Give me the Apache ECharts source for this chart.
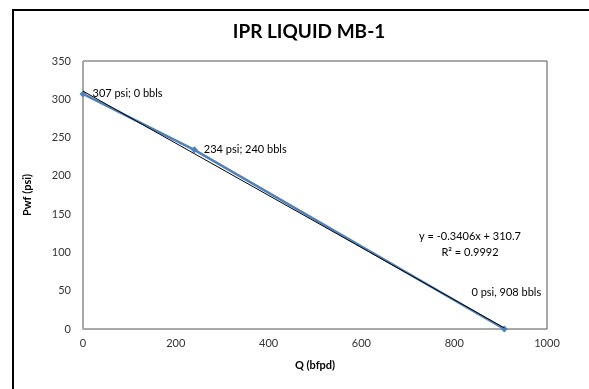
<!DOCTYPE html>
<html>
<head>
<meta charset="utf-8">
<script src="https://cdn.jsdelivr.net/npm/echarts@6/dist/echarts.min.js"></script>
<style>
  html, body { margin: 0; padding: 0; background: #fff; }
  #chart { width: 589px; height: 389px; }
</style>
</head>
<body>
<div id="chart"></div>
<script>
// measured points: Q (bfpd), Pwf (psi)
const qValues = [0, 240, 908]
const pwfValues = [307, 234, 0]
const pointLabels = ["307 psi; 0 bbls", "234 psi; 240 bbls", "0 psi, 908 bbls"]

// linear trendline from the chart: y = -0.3406x + 310.7
const slope = -0.3406
const intercept = 310.7
const trendX = [0, 908]

const font = "Lato, 'Liberation Sans', sans-serif"

const chart = echarts.init(document.getElementById("chart"))

const points = qValues.map((q, i) => {
  const item = { value: [q, pwfValues[i]], label: { formatter: pointLabels[i] } }
  if (i === 2) {
    item.label.position = "top"
    item.label.offset = [2, -22]
  }
  return item
})

const option = {
  animation: false,
  backgroundColor: "#fff",
  textStyle: { fontFamily: font },
  title: {
    text: "IPR LIQUID MB-1",
    left: 304,
    textAlign: "center",
    top: 17,
    textStyle: { fontFamily: font, fontSize: 19, fontWeight: "bold", color: "#000" },
  },
  grid: {
    left: 83,
    top: 61,
    width: 464,
    height: 268,
    show: true,
    borderColor: "#555",
    borderWidth: 1,
  },
  xAxis: {
    type: "value",
    min: 0,
    max: 1000,
    interval: 200,
    name: "Q (bfpd)",
    nameLocation: "middle",
    nameGap: 31,
    nameTextStyle: { fontFamily: font, fontSize: 11, fontWeight: "bold", color: "#000" },
    axisLine: { show: true, lineStyle: { color: "#a6a6a6", width: 1 } },
    axisTick: { show: false },
    splitLine: { show: false },
    axisLabel: { fontFamily: font, fontSize: 11, color: "#333", margin: 9, formatter: (v) => String(v) },
  },
  yAxis: {
    type: "value",
    min: 0,
    max: 350,
    interval: 50,
    name: "Pwf (psi)",
    nameLocation: "middle",
    nameGap: 50,
    nameTextStyle: { fontFamily: font, fontSize: 11, fontWeight: "bold", color: "#000" },
    axisLine: { show: true, lineStyle: { color: "#a6a6a6", width: 1 } },
    axisTick: { show: false },
    splitLine: { show: false },
    axisLabel: { fontFamily: font, fontSize: 11, color: "#333", margin: 12 },
  },
  series: [
    {
      name: "IPR",
      type: "line",
      data: points,
      symbol: "diamond",
      symbolSize: 7,
      lineStyle: { color: "#4f81bd", width: 2.5 },
      itemStyle: { color: "#4f81bd" },
      label: {
        show: true,
        position: "right",
        distance: 6,
        fontFamily: font,
        fontSize: 11,
        color: "#000",
      },
      z: 2,
    },
    {
      name: "Trend",
      type: "line",
      data: trendX.map((x) => [x, slope * x + intercept]),
      symbol: "none",
      lineStyle: { color: "#000", width: 1 },
      z: 3,
    },
  ],
  graphic: [
    {
      type: "rect",
      shape: { x: 13, y: 10, width: 600, height: 420 },
      style: { fill: "none", stroke: "#000", lineWidth: 2 },
      silent: true,
    },
    {
      type: "text",
      x: 470,
      y: 244,
      style: {
        text: "y = -0.3406x + 310.7\nR² = 0.9992",
        align: "center",
        verticalAlign: "middle",
        lineHeight: 16,
        font: "11px " + font,
        fill: "#000",
      },
      z: 10,
    },
  ],
}

option && chart.setOption(option)
</script>
</body>
</html>
